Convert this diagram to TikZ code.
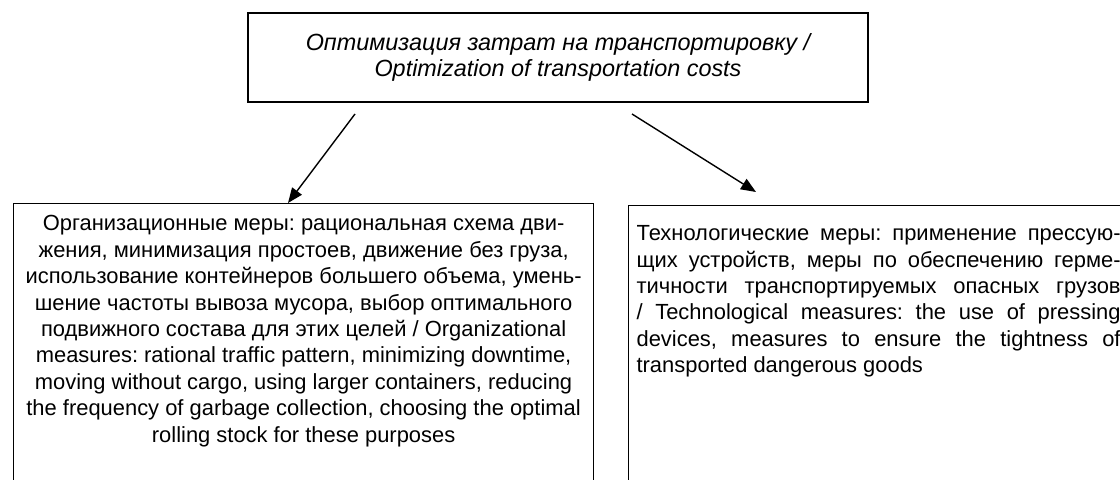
\documentclass[tikz,border=0pt]{standalone}
\usepackage{fontspec}
\setmainfont{Liberation Sans}
\usetikzlibrary{arrows.meta,positioning}

\tikzset{
  title/.style={draw, line width=2.4bp, align=center, minimum width=620bp,
    minimum height=89bp, font=\itshape\fontsize{23.5}{27}\selectfont},
  measure/.style={draw, line width=1.2bp, anchor=north west, inner xsep=8bp,
    font=\fontsize{22}{26.5}\selectfont},
  link/.style={line width=1.4bp, -{Triangle[length=15bp,width=12bp]}}
}

\begin{document}
\frenchspacing
\begin{tikzpicture}[x=1bp,y=-1bp]
  \path[use as bounding box, clip] (0,0) rectangle (1120,480);
  \node[title] (cost) at (558,57.5) {Оптимизация затрат на транспортировку /\\
    Optimization of transportation costs};
  \node[measure, inner ysep=12bp] (org) at (13,203) {\parbox[t][300bp][t]{564bp}{%
    \centering Организационные меры: рациональная схема дви-\\
    жения, минимизация простоев, движение без груза,\\
    использование контейнеров большего объема, умень-\\
    шение частоты вывоза мусора, выбор оптимального\\
    подвижного состава для этих целей / Organizational\\
    measures: rational traffic pattern, minimizing downtime,\\
    moving without cargo, using larger containers, reducing\\
    the frequency of garbage collection, choosing the optimal\\
    rolling stock for these purposes}};
  \node[measure, inner ysep=20bp] (tech) at (628,205) {\parbox[t][300bp][t]{484bp}{%
    \hyphenpenalty=10000 \tolerance=10000 \frenchspacing
    Технологические меры: применение прессую-\linebreak
    щих устройств, меры по обеспечению герме-\linebreak
    тичности транспортируемых опасных грузов\linebreak
    / Technological measures: the use of pressing\linebreak
    devices, measures to ensure the tightness of\linebreak
    transported dangerous goods\par}};
  \coordinate (orgfrom) at (355,114);
  \coordinate (orgto) at (288,203);
  \coordinate (techfrom) at (632,114);
  \coordinate (techto) at (756,192);
  \draw[link] (orgfrom) -- (orgto);
  \draw[link] (techfrom) -- (techto);
\end{tikzpicture}
\end{document}
